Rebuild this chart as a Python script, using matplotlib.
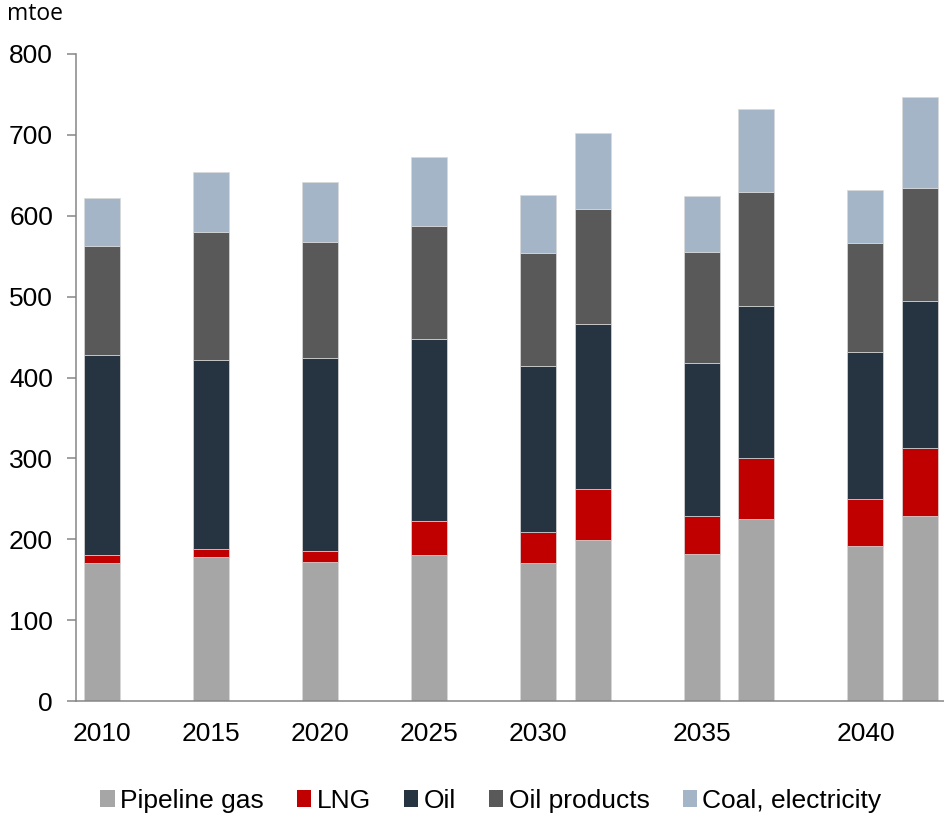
import numpy as np
import matplotlib
matplotlib.use("Agg")
import matplotlib.pyplot as plt
from matplotlib.patches import Patch

plt.rcParams['font.family'] = ['Liberation Sans', 'DejaVu Sans']

# slot positions on the category axis (blank slots between the years)
slots = [0, 2, 4, 6, 8, 9, 11, 12, 14, 15]
tick_slots = [0, 2, 4, 6, 8, 11, 14]
tick_labels = ['2010', '2015', '2020', '2025', '2030', '2035', '2040']

series_names = ['Pipeline gas', 'LNG', 'Oil', 'Oil products', 'Coal, electricity']
pipeline_gas = [171, 178, 172, 181, 171, 199, 182, 225, 192, 229]
lng = [9, 10, 14, 41, 38, 63, 47, 75, 58, 84]
oil = [248, 234, 238, 225, 205, 204, 189, 189, 181, 182]
oil_products = [134, 158, 144, 140, 140, 142, 137, 140, 135, 139]
coal_electricity = [60, 74, 74, 86, 72, 94, 69, 103, 66, 113]

colors = ['#a6a6a6', '#c00000', '#263340', '#595959', '#a3b5c7']

fig = plt.figure(figsize=(9.44, 8.18), dpi=100)
ax = fig.add_axes([0.0805, 0.143, 0.9195, 0.791])

bottom = np.zeros(len(slots))
for vals, col in zip([pipeline_gas, lng, oil, oil_products, coal_electricity], colors):
    ax.bar(slots, vals, width=0.66, bottom=bottom, color=col,
           edgecolor='#d9d9d9', linewidth=0.5)
    bottom += np.array(vals)

ax.set_xlim(-0.477, 15.44)
ax.set_ylim(0, 800)
ax.set_yticks(np.arange(0, 801, 100))
ax.set_xticks(tick_slots)
ax.set_xticklabels(tick_labels)

for s in ['top', 'right']:
    ax.spines[s].set_visible(False)
for s in ['left', 'bottom']:
    ax.spines[s].set_color('#868686')
    ax.spines[s].set_linewidth(1.1)

ax.tick_params(axis='y', direction='out', length=6.5, width=1.1, color='#868686',
               labelsize=19, pad=10)
ax.tick_params(axis='x', length=0, labelsize=19, pad=15)

fig.text(0.007, 0.983, 'mtoe', fontsize=16.5, family='Open Sans', va='center', ha='left')

handles = [Patch(facecolor=c, edgecolor='none') for c in colors]
fig.legend(handles, series_names, loc='center', bbox_to_anchor=(0.52, 0.021),
           ncol=5, frameon=False, fontsize=19, handlelength=0.55, handleheight=0.6,
           handletextpad=0.2, columnspacing=1.25, borderaxespad=0)

fig.savefig('out.png', dpi=100)
